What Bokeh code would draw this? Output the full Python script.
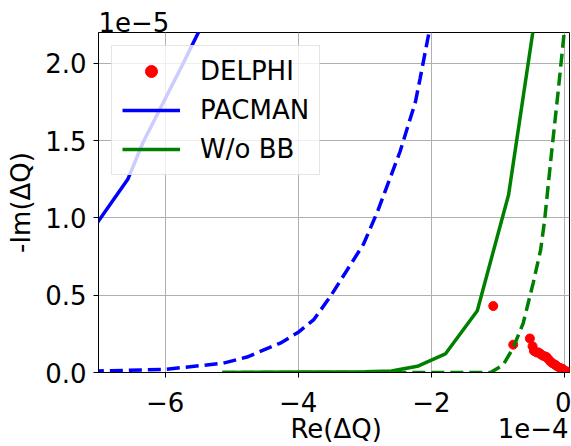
from bokeh.plotting import figure
from bokeh.models import FixedTicker, Legend, LegendItem, Range1d, LinearAxis, Title
from bokeh.embed import file_html
from bokeh.resources import INLINE

# Data (x in units of 1e-4, y in units of 1e-5)
delphi_x = [-1.07, -0.77, -0.52, -0.48, -0.46, -0.42, -0.39, -0.36, -0.33, -0.30,
            -0.27, -0.24, -0.21, -0.18, -0.14, -0.11, -0.07, -0.04, -0.02, 0.01, 0.04]
delphi_y = [0.43, 0.18, 0.22, 0.17, 0.14, 0.13, 0.13, 0.12, 0.11, 0.105,
            0.10, 0.085, 0.07, 0.06, 0.05, 0.04, 0.03, 0.025, 0.02, 0.01, 0.005]

pacman_x = [-7.4, -7.0, -6.56, -6.33, -6.0, -5.74, -5.5, -5.0]
pacman_y = [0.74, 0.98, 1.25, 1.49, 1.77, 1.99, 2.20, 2.65]

pacman_bb_x = [-7.4, -7.0, -6.0, -5.13, -4.77, -4.27, -4.0, -3.77, -3.52, -3.27,
               -3.02, -2.81, -2.47, -2.24, -2.17, -2.04, -1.9]
pacman_bb_y = [0.005, 0.01, 0.02, 0.06, 0.10, 0.19, 0.26, 0.34, 0.49, 0.66,
               0.83, 1.04, 1.43, 1.75, 1.90, 2.19, 2.5]

wobb_x = [-5.14, -3.0, -2.6, -2.21, -1.79, -1.31, -0.84, -0.48, -0.4]
wobb_y = [0.0, 0.005, 0.01, 0.04, 0.12, 0.40, 1.15, 2.19, 2.45]

wobb_bb_x = [-5.14, -1.11, -0.92, -0.77, -0.62, -0.47, -0.36, -0.30, -0.2, -0.1, 0.0, 0.05]
wobb_bb_y = [0.0, 0.0, 0.05, 0.16, 0.32, 0.58, 0.79, 0.98, 1.40, 1.80, 2.22, 2.45]

x_ticks = [-6, -4, -2, 0]
x_tick_labels = ["−6", "−4", "−2", "0"]
y_ticks = [0, 0.5, 1.0, 1.5, 2.0]
y_tick_labels = ["0.0", "0.5", "1.0", "1.5", "2.0"]

x_label = "Re(ΔQ)"
y_label = "-Im(ΔQ)"
x_offset_text = "1e−4"
y_offset_text = "1e−5"

FONT = "DejaVu Sans"
FS = "26px"

p = figure(width=571, height=446, output_backend="svg", toolbar_location=None,
           x_range=Range1d(-7.0, 0.075), y_range=Range1d(0, 2.2),
           min_border_left=98, min_border_right=2, min_border_top=32, min_border_bottom=73)

p.background_fill_color = "white"
p.border_fill_color = "white"
p.outline_line_color = "black"
p.outline_line_width = 1
p.outline_line_alpha = 1

for ax in (p.xaxis[0], p.yaxis[0]):
    ax.major_label_text_font = FONT
    ax.major_label_text_font_size = FS
    ax.major_label_text_color = "black"
    ax.axis_label_text_font = FONT
    ax.axis_label_text_font_size = FS
    ax.axis_label_text_font_style = "normal"
    ax.axis_label_text_color = "black"
    ax.major_tick_out = 5
    ax.major_tick_in = 0
    ax.minor_tick_line_color = None
    ax.axis_line_color = "black"
    ax.major_tick_line_color = "black"

p.xaxis.ticker = FixedTicker(ticks=x_ticks)
p.yaxis.ticker = FixedTicker(ticks=y_ticks)
p.xaxis.major_label_overrides = dict(zip(x_ticks, x_tick_labels))
p.yaxis.major_label_overrides = dict(zip(y_ticks, y_tick_labels))
p.yaxis.axis_label = y_label
p.xaxis.major_label_standoff = 14
p.yaxis.major_label_standoff = 7
p.yaxis.axis_label_standoff = 6

# second row below the x axis: axis label and offset text on one line
lab_pos = [-3.43, -0.47]
ax2 = LinearAxis(ticker=FixedTicker(ticks=lab_pos),
                 major_label_overrides=dict(zip(lab_pos, [x_label, x_offset_text])),
                 axis_line_color=None, major_tick_line_color=None, minor_tick_line_color=None,
                 major_tick_out=0, major_tick_in=0, major_label_standoff=-1,
                 major_label_text_font=FONT, major_label_text_font_size=FS,
                 major_label_text_color="black")
p.add_layout(ax2, "below")

p.add_layout(Title(text=y_offset_text, align="left", text_font=FONT, text_font_size=FS,
                   text_font_style="normal", text_color="black", standoff=2, offset=0), "above")

p.xgrid.ticker = FixedTicker(ticks=x_ticks)
p.ygrid.ticker = FixedTicker(ticks=y_ticks)
p.grid.grid_line_color = "#b0b0b0"
p.grid.grid_line_width = 1

r_delphi = p.scatter(delphi_x, delphi_y, size=9, color="red", line_color="red")
r_pac_bb = p.line(pacman_bb_x, pacman_bb_y, line_color="blue", line_width=3.5, line_dash="13 6")
r_pac = p.line(pacman_x, pacman_y, line_color="blue", line_width=3.5)
r_wobb_bb = p.line(wobb_bb_x, wobb_bb_y, line_color="green", line_width=3.5, line_dash="13 6")
r_wobb = p.line(wobb_x, wobb_y, line_color="green", line_width=3.5)

legend = Legend(items=[LegendItem(label="DELPHI", renderers=[r_delphi]),
                       LegendItem(label="PACMAN", renderers=[r_pac]),
                       LegendItem(label="W/o BB", renderers=[r_wobb])],
                location="top_left", margin=13, padding=10, spacing=9,
                glyph_width=58, glyph_height=30, label_standoff=20,
                label_text_font=FONT, label_text_font_size=FS,
                label_text_color="black",
                border_line_color="#cccccc", border_line_width=1,
                background_fill_color="white", background_fill_alpha=0.8)
p.add_layout(legend, "center")

open("out.html", "w").write(file_html(p, INLINE))
